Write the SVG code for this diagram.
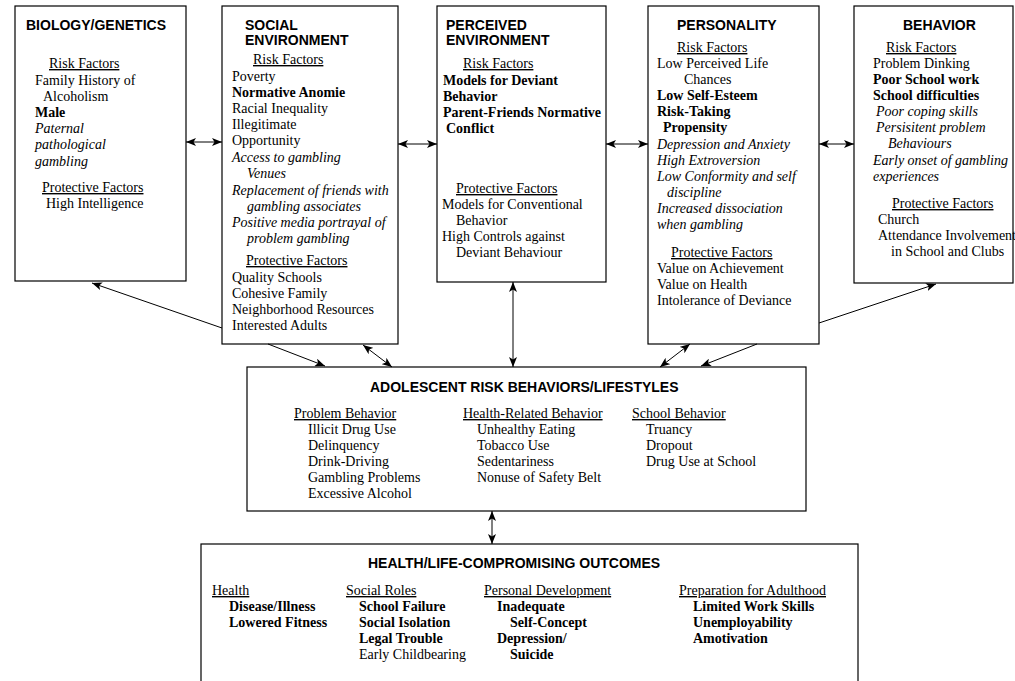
<svg xmlns="http://www.w3.org/2000/svg" width="1015" height="681" viewBox="0 0 1015 681">
<defs>
<style>
.box{fill:#fff;stroke:#000;stroke-width:1.2}
.h{font-family:"Liberation Sans",Arial,sans-serif;font-weight:bold;font-size:14px;fill:#000}
.t{font-family:"Liberation Serif","Times New Roman",serif;font-size:14px;fill:#000}
.b{font-weight:bold}
.i{font-style:italic}
.u{text-decoration:underline}
.c{fill:none;stroke:#000;stroke-width:1}
</style>
<marker id="arr" viewBox="0 0 10 8" refX="10" refY="4" markerWidth="10" markerHeight="8" markerUnits="userSpaceOnUse" orient="auto-start-reverse">
<path d="M0,0 L10,4 L0,8 L2.5,4 z" fill="#000"/>
</marker>
</defs>
<rect width="1015" height="681" fill="#fff"/>

<g id="biology">
<rect class="box" x="15" y="6" width="171" height="275"/>
<text class="h" x="26" y="30">BIOLOGY/GENETICS</text>
<text class="t u" x="49" y="68">Risk Factors</text>
<text class="t" x="35" y="85">Family History  of</text>
<text class="t" x="43" y="101">Alcoholism</text>
<text class="t b" x="35" y="117">Male</text>
<text class="t i" x="35" y="133">Paternal</text>
<text class="t i" x="35" y="149">pathological</text>
<text class="t i" x="35" y="166">gambling</text>
<text class="t u" x="42" y="192">Protective Factors</text>
<text class="t" x="46" y="208">High Intelligence</text>
</g>

<g id="social">
<rect class="box" x="222" y="6" width="176" height="338"/>
<text class="h" x="245" y="30">SOCIAL</text>
<text class="h" x="245" y="45">ENVIRONMENT</text>
<text class="t u" x="253" y="64">Risk Factors</text>
<text class="t" x="232" y="81">Poverty</text>
<text class="t b" x="232" y="97">Normative Anomie</text>
<text class="t" x="232" y="113">Racial Inequality</text>
<text class="t" x="232" y="129">Illegitimate</text>
<text class="t" x="232" y="145">Opportunity</text>
<text class="t i" x="232" y="162">Access to gambling</text>
<text class="t i" x="247" y="178">Venues</text>
<text class="t i" x="232" y="195">Replacement of friends with</text>
<text class="t i" x="247" y="211">gambling associates</text>
<text class="t i" x="232" y="227">Positive media portrayal of</text>
<text class="t i" x="247" y="243">problem gambling</text>
<text class="t u" x="246" y="265">Protective Factors</text>
<text class="t" x="232" y="282">Quality Schools</text>
<text class="t" x="232" y="298">Cohesive Family</text>
<text class="t" x="232" y="314">Neighborhood Resources</text>
<text class="t" x="232" y="330">Interested Adults</text>
</g>

<g id="perceived">
<rect class="box" x="437" y="6" width="169" height="276"/>
<text class="h" x="446" y="30">PERCEIVED</text>
<text class="h" x="446" y="45">ENVIRONMENT</text>
<text class="t u" x="463" y="68">Risk Factors</text>
<text class="t b" x="443" y="85">Models for Deviant</text>
<text class="t b" x="443" y="101">Behavior</text>
<text class="t b" x="443" y="117">Parent-Friends Normative</text>
<text class="t b" x="446" y="133">Conflict</text>
<text class="t u" x="456" y="193">Protective Factors</text>
<text class="t" x="442" y="209">Models for Conventional</text>
<text class="t" x="456" y="225">Behavior</text>
<text class="t" x="442" y="241">High Controls against</text>
<text class="t" x="456" y="257">Deviant Behaviour</text>
</g>

<g id="personality">
<rect class="box" x="648" y="6" width="171" height="338"/>
<text class="h" x="677" y="30">PERSONALITY</text>
<text class="t u" x="677" y="52">Risk Factors</text>
<text class="t" x="657" y="68">Low Perceived Life</text>
<text class="t" x="684" y="84">Chances</text>
<text class="t b" x="657" y="100">Low Self-Esteem</text>
<text class="t b" x="657" y="116">Risk-Taking</text>
<text class="t b" x="663" y="132">Propensity</text>
<text class="t i" x="657" y="149">Depression and Anxiety</text>
<text class="t i" x="657" y="165">High Extroversion</text>
<text class="t i" x="657" y="181">Low Conformity and self</text>
<text class="t i" x="667" y="197">discipline</text>
<text class="t i" x="657" y="213">Increased dissociation</text>
<text class="t i" x="657" y="229">when gambling</text>
<text class="t u" x="671" y="257">Protective Factors</text>
<text class="t" x="657" y="273">Value on Achievement</text>
<text class="t" x="657" y="289">Value on Health</text>
<text class="t" x="657" y="305">Intolerance of Deviance</text>
</g>

<g id="behavior">
<rect class="box" x="854" y="6" width="159" height="277"/>
<text class="h" x="903" y="30">BEHAVIOR</text>
<text class="t u" x="886" y="52">Risk Factors</text>
<text class="t" x="873" y="68">Problem Dinking</text>
<text class="t b" x="873" y="84">Poor School work</text>
<text class="t b" x="873" y="100">School difficulties</text>
<text class="t i" x="876" y="116">Poor coping skills</text>
<text class="t i" x="876" y="132">Persisitent problem</text>
<text class="t i" x="888" y="148">Behaviours</text>
<text class="t i" x="873" y="165">Early onset of gambling</text>
<text class="t i" x="873" y="181">experiences</text>
<text class="t u" x="892" y="208">Protective Factors</text>
<text class="t" x="878" y="224">Church</text>
<text class="t" x="878" y="240">Attendance  Involvement</text>
<text class="t" x="891" y="256">in School and Clubs</text>
</g>

<g id="adolescent">
<rect class="box" x="247" y="367" width="559" height="144"/>
<text class="h" x="370" y="392">ADOLESCENT RISK BEHAVIORS/LIFESTYLES</text>
<text class="t u" x="294" y="418">Problem Behavior</text>
<text class="t" x="308" y="434">Illicit Drug Use</text>
<text class="t" x="308" y="450">Delinquency</text>
<text class="t" x="308" y="466">Drink-Driving</text>
<text class="t" x="308" y="482">Gambling Problems</text>
<text class="t" x="308" y="498">Excessive Alcohol</text>
<text class="t u" x="463" y="418">Health-Related Behavior</text>
<text class="t" x="477" y="434">Unhealthy Eating</text>
<text class="t" x="477" y="450">Tobacco Use</text>
<text class="t" x="477" y="466">Sedentariness</text>
<text class="t" x="477" y="482">Nonuse of Safety Belt</text>
<text class="t u" x="632" y="418">School Behavior</text>
<text class="t" x="646" y="434">Truancy</text>
<text class="t" x="646" y="450">Dropout</text>
<text class="t" x="646" y="466">Drug Use at School</text>
</g>

<g id="outcomes">
<rect class="box" x="201" y="544" width="657" height="150"/>
<text class="h" x="368" y="568">HEALTH/LIFE-COMPROMISING OUTCOMES</text>
<text class="t u" x="212" y="595">Health</text>
<text class="t b" x="229" y="611">Disease/Illness</text>
<text class="t b" x="229" y="627">Lowered Fitness</text>
<text class="t u" x="346" y="595">Social Roles</text>
<text class="t b" x="359" y="611">School Failure</text>
<text class="t b" x="359" y="627">Social Isolation</text>
<text class="t b" x="359" y="643">Legal Trouble</text>
<text class="t" x="359" y="659">Early Childbearing</text>
<text class="t u" x="484" y="595">Personal Development</text>
<text class="t b" x="497" y="611">Inadequate</text>
<text class="t b" x="510" y="627">Self-Concept</text>
<text class="t b" x="497" y="643">Depression/</text>
<text class="t b" x="510" y="659">Suicide</text>
<text class="t u" x="679" y="595">Preparation for Adulthood</text>
<text class="t b" x="693" y="611">Limited Work Skills</text>
<text class="t b" x="693" y="627">Unemployability</text>
<text class="t b" x="693" y="643">Amotivation</text>
</g>

<g id="connectors">
<path class="c" d="M186,142 L222,142" marker-start="url(#arr)" marker-end="url(#arr)"/>
<path class="c" d="M398,144 L437,144" marker-start="url(#arr)" marker-end="url(#arr)"/>
<path class="c" d="M606,144 L648,144" marker-start="url(#arr)" marker-end="url(#arr)"/>
<path class="c" d="M819,144 L854,144" marker-start="url(#arr)" marker-end="url(#arr)"/>
<path class="c" d="M222,328 L92,283" marker-end="url(#arr)"/>
<path class="c" d="M268,344 L325,366" marker-end="url(#arr)"/>
<path class="c" d="M363,345 L392,367" marker-start="url(#arr)" marker-end="url(#arr)"/>
<path class="c" d="M513,282 L513,367" marker-start="url(#arr)" marker-end="url(#arr)"/>
<path class="c" d="M690,344 L660,367" marker-start="url(#arr)" marker-end="url(#arr)"/>
<path class="c" d="M757,344 L701,366" marker-end="url(#arr)"/>
<path class="c" d="M819,323 L936,284" marker-end="url(#arr)"/>
<path class="c" d="M492,511 L492,544" marker-start="url(#arr)" marker-end="url(#arr)"/>
</g>
</svg>
